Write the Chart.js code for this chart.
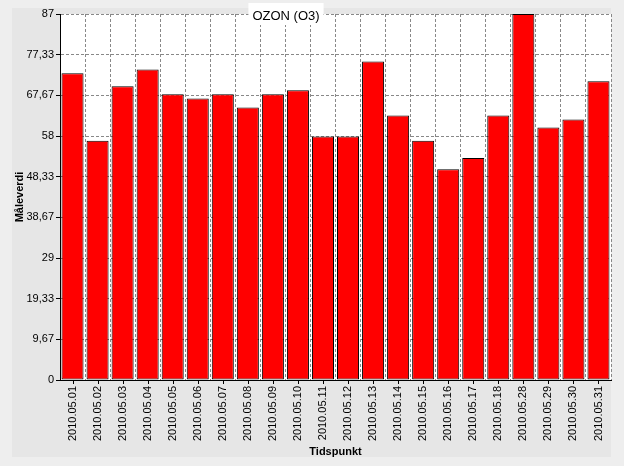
<!DOCTYPE html>
<html lang="no">
<head>
  <meta charset="UTF-8" />
  <title>OZON (O3)</title>
  <script src="https://cdn.jsdelivr.net/npm/chart.js"></script>
  <style>
    html, body { margin: 0; padding: 0; background: #eeeeee; }
    canvas { display: block; }
  </style>
</head>
<body>
  <canvas id="ozonChart" width="624" height="466"></canvas>

  <script>
    const chartTitle = 'OZON (O3)';
    const xTitle = 'Tidspunkt';
    const yTitle = 'Måleverdi';

    const dates = [
      '2010.05.01', '2010.05.02', '2010.05.03', '2010.05.04', '2010.05.05', '2010.05.06',
      '2010.05.07', '2010.05.08', '2010.05.09', '2010.05.10', '2010.05.11', '2010.05.12',
      '2010.05.13', '2010.05.14', '2010.05.15', '2010.05.16', '2010.05.17', '2010.05.18',
      '2010.05.28', '2010.05.29', '2010.05.30', '2010.05.31'
    ];
    const values = [
      72.9, 56.9, 69.8, 73.8, 67.9, 66.9,
      67.9, 64.8, 67.9, 68.9, 57.9, 57.9,
      75.7, 62.9, 56.9, 50.1, 52.8, 62.9,
      87.0, 60.0, 61.9, 71.0
    ];
    const yMax = 87;
    const yStep = 87 / 9;

    // bakgrunn: ytre grå, panel litt mørkere, plottet hvitt
    const backgroundPlugin = {
      id: 'bg',
      beforeDraw(chart) {
        const { ctx, chartArea: a } = chart;
        ctx.save();
        ctx.fillStyle = '#eeeeee';
        ctx.fillRect(0, 0, chart.width, chart.height);
        ctx.fillStyle = '#e6e6e6';
        ctx.fillRect(12, 8, 599, 449);
        ctx.fillStyle = '#ffffff';
        ctx.fillRect(a.left, a.top, a.right - a.left, a.bottom - a.top);
        ctx.restore();
      }
    };

    // tickmerker midt under hver søyle + tittel med hvit boks
    const overlayPlugin = {
      id: 'overlay',
      afterDraw(chart) {
        const { ctx } = chart;
        const xs = chart.scales.x;
        ctx.save();
        ctx.strokeStyle = '#000';
        ctx.lineWidth = 1;
        ctx.beginPath();
        dates.forEach((d, i) => {
          const px = Math.round(xs.getPixelForValue(i)) + 0.5;
          ctx.moveTo(px, xs.top);
          ctx.lineTo(px, xs.top + 4);
        });
        ctx.stroke();

        ctx.font = '13px "Liberation Sans", Arial, sans-serif';
        const w = ctx.measureText(chartTitle).width;
        const cx = 286;
        ctx.fillStyle = '#ffffff';
        ctx.fillRect(cx - w / 2 - 4, 3, w + 8, 22);
        ctx.fillStyle = '#000';
        ctx.textAlign = 'center';
        ctx.textBaseline = 'middle';
        ctx.fillText(chartTitle, cx, 16);
        ctx.restore();
      }
    };

    const font = { family: '"Liberation Sans", Arial, sans-serif', size: 11 };
    const boldFont = { family: '"Liberation Sans", Arial, sans-serif', size: 11, weight: 'bold' };

    new Chart(document.getElementById('ozonChart').getContext('2d'), {
      type: 'bar',
      data: {
        labels: dates,
        datasets: [{
          label: chartTitle,
          data: values,
          backgroundColor: '#ff0000',
          borderColor: '#000000',
          borderWidth: 1,
          borderSkipped: false,
          barPercentage: 0.88,
          categoryPercentage: 1.0
        }]
      },
      options: {
        responsive: false,
        animation: false,
        layout: { padding: { left: 12, right: 13, top: 14, bottom: 0 } },
        plugins: {
          legend: { display: false },
          title: { display: false },
          tooltip: { enabled: false }
        },
        scales: {
          x: {
            offset: true,
            afterFit(scale) { scale.height = 86; },
            grid: {
              offset: true,
              drawTicks: false,
              color: c => (c.index === 0 || c.index === dates.length) ? 'transparent' : '#888888'
            },
            border: { display: true, color: '#000', dash: [3, 2] },
            ticks: {
              font: font,
              color: '#000',
              minRotation: 90,
              maxRotation: 90,
              autoSkip: false,
              padding: 6
            },
            title: {
              display: true,
              text: xTitle,
              font: boldFont,
              color: '#000',
              padding: { top: 0, bottom: 7 }
            }
          },
          y: {
            min: 0,
            max: yMax,
            afterFit(scale) { scale.width = 48; },
            afterBuildTicks(scale) {
              const t = [];
              for (let i = 0; i <= 9; i++) t.push({ value: i * yStep });
              scale.ticks = t;
            },
            grid: {
              color: c => c.index === 0 ? 'transparent' : '#888888',
              tickColor: '#000',
              tickLength: 4,
              tickBorderDash: [1, 0]
            },
            border: { display: true, color: '#000', dash: [3, 2] },
            ticks: {
              font: font,
              color: '#000',
              padding: 2,
              callback: v => String(Math.round(v * 100) / 100).replace('.', ',')
            },
            title: {
              display: true,
              text: yTitle,
              font: boldFont,
              color: '#000',
              padding: { top: 1, bottom: 0 }
            }
          }
        }
      },
      plugins: [backgroundPlugin, overlayPlugin]
    });
  </script>
</body>
</html>
